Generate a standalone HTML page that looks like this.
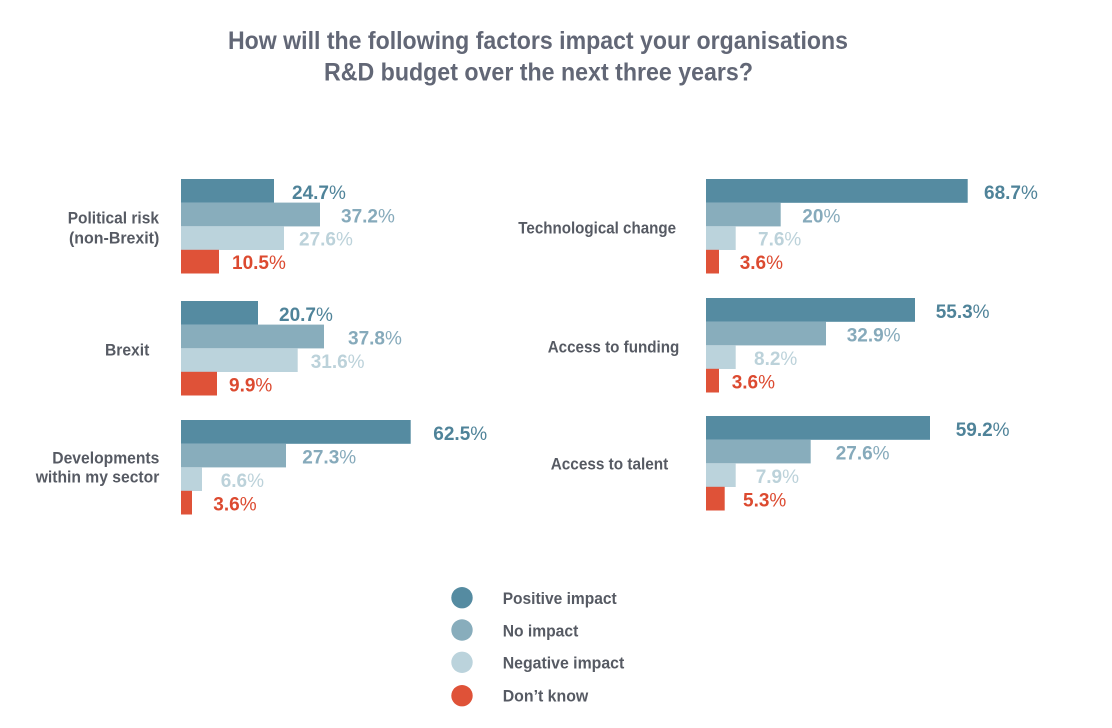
<!DOCTYPE html>
<html>
<head>
<meta charset="utf-8">
<style>
html,body{margin:0;padding:0;background:#fff;}
svg{display:block;}
text{font-family:"Liberation Sans",sans-serif;}
.t{font-size:25px;font-weight:bold;fill:#626776;}
.c{font-size:17px;font-weight:bold;fill:#565a63;}
.v{font-size:19px;font-weight:bold;}
.v tspan{font-weight:normal;}
.d{fill:#558ba1;}
.m{fill:#88adbc;}
.l{fill:#bbd3dc;}
.r{fill:#df5238;}
.td{fill:#4f8399;}
.tm{fill:#86aabb;}
.tl{fill:#bcd2da;}
.tr{fill:#dc4a30;}
</style>
</head>
<body>
<svg width="1112" height="728" viewBox="0 0 1112 728" xmlns="http://www.w3.org/2000/svg">
<rect width="1112" height="728" fill="#fff"/>
<!-- Title -->
<text class="t" x="228" y="49" textLength="620" lengthAdjust="spacingAndGlyphs">How will the following factors impact your organisations</text>
<text class="t" x="324" y="80.3" textLength="429" lengthAdjust="spacingAndGlyphs">R&amp;D budget over the next three years?</text>

<!-- Category labels -->
<text class="c" x="67.7" y="223.3" textLength="91.3" lengthAdjust="spacingAndGlyphs">Political risk</text>
<text class="c" x="69" y="243.3" textLength="90.3" lengthAdjust="spacingAndGlyphs">(non-Brexit)</text>
<text class="c" x="105" y="355.7" textLength="44.3" lengthAdjust="spacingAndGlyphs">Brexit</text>
<text class="c" x="52.3" y="463.3" textLength="107" lengthAdjust="spacingAndGlyphs">Developments</text>
<text class="c" x="35.7" y="482.3" textLength="123.6" lengthAdjust="spacingAndGlyphs">within my sector</text>
<text class="c" x="518.3" y="233.3" textLength="157.7" lengthAdjust="spacingAndGlyphs">Technological change</text>
<text class="c" x="547.7" y="352.7" textLength="131.6" lengthAdjust="spacingAndGlyphs">Access to funding</text>
<text class="c" x="550.7" y="469.3" textLength="117.6" lengthAdjust="spacingAndGlyphs">Access to talent</text>

<!-- Left group 1 -->
<rect class="d" x="181" y="179" width="93" height="23.8"/>
<rect class="m" x="181" y="202.6" width="139" height="23.8"/>
<rect class="l" x="181" y="226.2" width="103" height="23.8"/>
<rect class="r" x="181" y="249.8" width="38" height="23.7"/>
<text class="v td" x="292" y="198.8">24.7<tspan>%</tspan></text>
<text class="v tm" x="341" y="222.4">37.2<tspan>%</tspan></text>
<text class="v tl" x="299" y="245.6">27.6<tspan>%</tspan></text>
<text class="v tr" x="232" y="269.2">10.5<tspan>%</tspan></text>

<!-- Left group 2 -->
<rect class="d" x="181" y="301" width="77" height="23.8"/>
<rect class="m" x="181" y="324.6" width="143" height="23.8"/>
<rect class="l" x="181" y="348.2" width="116.7" height="23.8"/>
<rect class="r" x="181" y="371.8" width="36" height="23.7"/>
<text class="v td" x="279" y="321">20.7<tspan>%</tspan></text>
<text class="v tm" x="348" y="344.6">37.8<tspan>%</tspan></text>
<text class="v tl" x="310.7" y="368">31.6<tspan>%</tspan></text>
<text class="v tr" x="229" y="391.6">9.9<tspan>%</tspan></text>

<!-- Left group 3 -->
<rect class="d" x="181" y="420" width="229.7" height="23.8"/>
<rect class="m" x="181" y="443.6" width="105" height="23.8"/>
<rect class="l" x="181" y="467.2" width="21" height="23.8"/>
<rect class="r" x="181" y="490.8" width="11" height="23.7"/>
<text class="v td" x="433.3" y="440">62.5<tspan>%</tspan></text>
<text class="v tm" x="302.3" y="463.6">27.3<tspan>%</tspan></text>
<text class="v tl" x="220.7" y="487">6.6<tspan>%</tspan></text>
<text class="v tr" x="213.3" y="510.6">3.6<tspan>%</tspan></text>

<!-- Right group 1 -->
<rect class="d" x="706" y="179" width="261.7" height="23.8"/>
<rect class="m" x="706" y="202.6" width="74.7" height="23.8"/>
<rect class="l" x="706" y="226.2" width="29.7" height="23.8"/>
<rect class="r" x="706" y="249.8" width="13" height="23.7"/>
<text class="v td" x="984" y="198.8">68.7<tspan>%</tspan></text>
<text class="v tm" x="802.3" y="222.4">20<tspan>%</tspan></text>
<text class="v tl" x="758" y="245.6">7.6<tspan>%</tspan></text>
<text class="v tr" x="739.7" y="269.2">3.6<tspan>%</tspan></text>

<!-- Right group 2 -->
<rect class="d" x="706" y="298" width="209" height="23.8"/>
<rect class="m" x="706" y="321.6" width="120" height="23.8"/>
<rect class="l" x="706" y="345.2" width="29.7" height="23.8"/>
<rect class="r" x="706" y="368.8" width="13" height="23.7"/>
<text class="v td" x="935.7" y="318">55.3<tspan>%</tspan></text>
<text class="v tm" x="846.7" y="341.6">32.9<tspan>%</tspan></text>
<text class="v tl" x="754" y="365">8.2<tspan>%</tspan></text>
<text class="v tr" x="731.7" y="388.6">3.6<tspan>%</tspan></text>

<!-- Right group 3 -->
<rect class="d" x="706" y="416" width="224" height="23.8"/>
<rect class="m" x="706" y="439.6" width="104.7" height="23.8"/>
<rect class="l" x="706" y="463.2" width="29.7" height="23.8"/>
<rect class="r" x="706" y="486.8" width="18.7" height="23.7"/>
<text class="v td" x="955.7" y="436">59.2<tspan>%</tspan></text>
<text class="v tm" x="835.7" y="459.6">27.6<tspan>%</tspan></text>
<text class="v tl" x="755.7" y="483">7.9<tspan>%</tspan></text>
<text class="v tr" x="743" y="506.6">5.3<tspan>%</tspan></text>

<!-- Legend -->
<circle class="d" cx="462" cy="597.7" r="10.7"/>
<circle class="m" cx="462" cy="630" r="10.7"/>
<circle class="l" cx="462" cy="662.3" r="10.7"/>
<circle class="r" cx="462" cy="695.7" r="10.7"/>
<text class="c" x="502.7" y="604" textLength="114" lengthAdjust="spacingAndGlyphs">Positive impact</text>
<text class="c" x="502.7" y="636.5" textLength="75.6" lengthAdjust="spacingAndGlyphs">No impact</text>
<text class="c" x="502.7" y="668.6" textLength="121.6" lengthAdjust="spacingAndGlyphs">Negative impact</text>
<text class="c" x="502.7" y="701.7" textLength="85.6" lengthAdjust="spacingAndGlyphs">Don’t know</text>
</svg>
</body>
</html>
